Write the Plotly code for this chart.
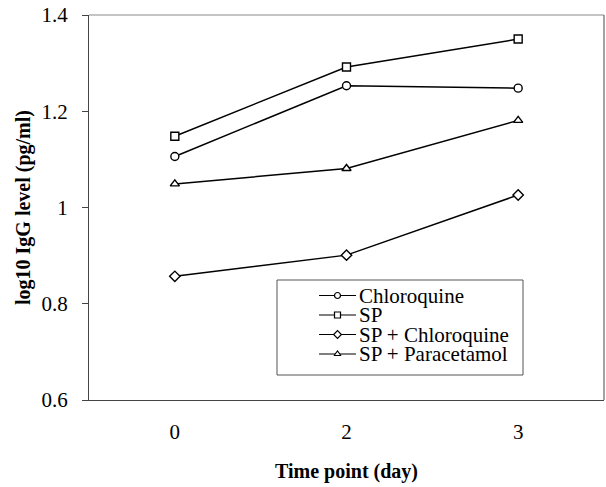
import plotly.graph_objects as go

# ---- data ----
days = ["0", "2", "3"]
series_names = ["Chloroquine", "SP", "SP + Chloroquine", "SP + Paracetamol"]
chloroquine = [1.106, 1.253, 1.248]
sp = [1.148, 1.292, 1.350]
sp_chloroquine = [0.857, 0.901, 1.026]
sp_paracetamol = [1.049, 1.081, 1.181]
y_ticks = [0.6, 0.8, 1.0, 1.2, 1.4]
y_tick_labels = ["0.6", "0.8", "1", "1.2", "1.4"]

series_values = [chloroquine, sp, sp_chloroquine, sp_paracetamol]
symbols = ["circle", "square", "diamond", "triangle-up"]
sizes = [8, 8, 8, 8]

FONT = "Liberation Serif"
W, H = 606, 487
L, R, T, B = 89, 2, 15, 87
pw, ph = W - L - R, H - T - B

fig = go.Figure()

for name, vals, sym, sz in zip(series_names, series_values, symbols, sizes):
    fig.add_trace(go.Scatter(
        x=days, y=vals, name=name, mode="lines+markers",
        line=dict(color="black", width=1.5),
        marker=dict(symbol=sym, size=sz, color="white",
                    line=dict(color="black", width=1.4)),
        showlegend=False,
    ))

# ---- hand-drawn legend on its own little axis (pixel units inside the box) ----
box_x0, box_x1, box_y0, box_y1 = 277, 523, 280, 375
bw, bh = box_x1 - box_x0, box_y1 - box_y0
row_y = [15.5, 35, 54.5, 74]
for name, sym, sz, ry in zip(series_names, symbols, sizes, row_y):
    fig.add_trace(go.Scatter(
        x=[42, 79], y=[ry, ry], mode="lines", xaxis="x2", yaxis="y2",
        line=dict(color="black", width=1.2), showlegend=False, hoverinfo="skip"))
    fig.add_trace(go.Scatter(
        x=[60.5], y=[ry], mode="markers", xaxis="x2", yaxis="y2",
        marker=dict(symbol=sym, size=sz - 2, color="white",
                    line=dict(color="black", width=1.2)),
        showlegend=False, hoverinfo="skip"))
    fig.add_annotation(x=80, y=ry, xref="x2", yref="y2", text=name,
                       showarrow=False, xanchor="left", yanchor="middle",
                       font=dict(family=FONT, size=21, color="black"))

def px_x(p):
    return (p - L) / pw

def px_y(p):
    return (H - B - p) / ph

fig.update_layout(
    width=W, height=H,
    margin=dict(l=L, r=R, t=T, b=B),
    paper_bgcolor="white", plot_bgcolor="white",
    font=dict(family=FONT, color="black"),
    xaxis=dict(
        type="category", range=[-0.5, 2.5], showgrid=False, zeroline=False,
        showline=True, linecolor="#444", linewidth=1.2, ticks="",
        tickfont=dict(family=FONT, size=21), ticklabelstandoff=13,
        title=dict(text="Time point (day)", standoff=20,
                   font=dict(family=FONT, size=20, weight="bold")),
    ),
    yaxis=dict(
        range=[0.6, 1.4], tickvals=y_ticks, ticktext=y_tick_labels,
        showgrid=False, zeroline=False, showline=True, linecolor="#444",
        linewidth=1.2, ticks="outside", ticklen=6, tickcolor="#444",
        tickfont=dict(family=FONT, size=21), ticklabelstandoff=10,
        title=dict(text="log10 IgG level (pg/ml)", standoff=5,
                   font=dict(family=FONT, size=20, weight="bold")),
    ),
    xaxis2=dict(domain=[px_x(box_x0), px_x(box_x1)], range=[0, bw],
                anchor="y2", visible=False, fixedrange=True),
    yaxis2=dict(domain=[px_y(box_y1), px_y(box_y0)], range=[bh, 0],
                anchor="x2", visible=False, fixedrange=True),
    shapes=[
        # top and right frame lines (lighter, as in the scan)
        dict(type="line", xref="paper", yref="paper", x0=0, x1=1, y0=1, y1=1,
             line=dict(color="#8a8a8a", width=1.2)),
        dict(type="line", xref="paper", yref="paper", x0=1, x1=1, y0=0, y1=1,
             line=dict(color="#666", width=1.2)),
        # legend box
        dict(type="rect", xref="paper", yref="paper",
             x0=px_x(box_x0), x1=px_x(box_x1), y0=px_y(box_y1), y1=px_y(box_y0),
             line=dict(color="#555", width=1), fillcolor="rgba(0,0,0,0)"),
    ],
    showlegend=False,
)

fig.write_html(
    "out.html",
    config={"displayModeBar": False},
    post_script="document.body.style.margin='0px';document.body.style.overflow='hidden';",
)
